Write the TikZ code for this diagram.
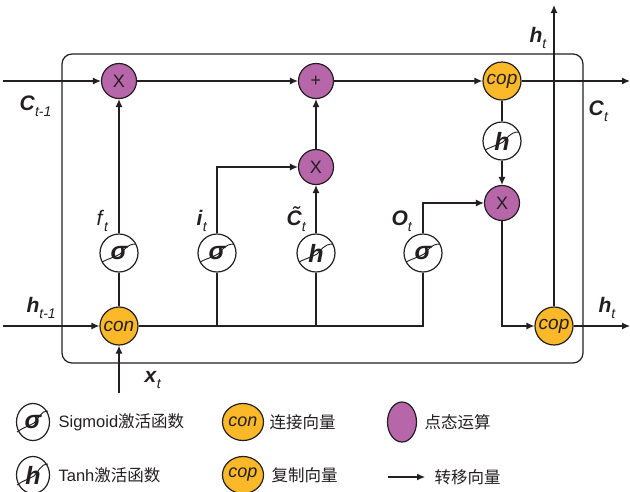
\documentclass[tikz,border=0pt]{standalone}
\usepackage{fontspec}
\setmainfont{Liberation Sans}
\newfontfamily\cjk{Noto Sans CJK SC}
\usetikzlibrary{arrows.meta,shapes.geometric}
\definecolor{pu}{RGB}{184,102,170}
\definecolor{og}{RGB}{251,184,40}
\definecolor{ln}{RGB}{35,31,32}
\newcommand\scurve[2][1]{\draw[ln, line width=0.9pt, shift={(#2.center)}, xscale=#1] (-17,9) .. controls (-9,5) and (-4,4) .. (1,1) .. controls (5,-2) and (7,-9) .. (17,-9);}
\newcommand\lbl[2]{\textbf{\textit{#1}}\raisebox{-6pt}{\fontsize{14}{14}\selectfont\textit{#2}}}
\begin{document}
\begin{tikzpicture}[x=1pt,y=-1pt,line width=1.2pt,draw=ln,text=ln,
  op/.style={circle,draw=ln,fill=pu,minimum size=35pt,inner sep=0pt,font=\fontsize{18}{18}\selectfont},
  vec/.style={circle,draw=ln,fill=og,minimum size=38pt,inner sep=0pt,font=\fontsize{19}{19}\selectfont\itshape},
  act/.style={circle,draw=ln,fill=white,minimum size=38pt,inner sep=0pt,font=\fontsize{25}{25}\selectfont\bfseries\itshape},
  lgact/.style={ellipse,draw=ln,fill=white,minimum width=33pt,minimum height=37pt,inner sep=0pt,font=\fontsize{25}{25}\selectfont\bfseries\itshape},
  lgvec/.style={ellipse,draw=ln,fill=og,minimum width=30pt,minimum height=37pt,inner sep=0pt,font=\fontsize{18}{18}\selectfont\itshape},
  lgop/.style={ellipse,draw=ln,fill=pu,minimum width=29pt,minimum height=40pt,inner sep=0pt},
  arr/.style={-{Latex[length=8pt,width=7pt]}},
  lab/.style={anchor=base west,inner sep=0pt,font=\fontsize{21}{21}\selectfont},
  lgtxt/.style={anchor=west,inner sep=0pt,font=\fontsize{16.5}{16.5}\selectfont}]
\useasboundingbox (0,0) rectangle (630,491);
% box
\node[draw=ln,rounded corners=10pt,minimum width=521pt,minimum height=309pt,inner sep=0pt] (box) at (322.5,208.5) {};
% nodes
\node[op] (m1) at (119,81) {X};
\node[op] (add) at (316,81) {+};
\node[vec] (cp1) at (502,81) {cop};
\node[op] (m2) at (316,167) {X};
\node[act] (th2) at (502,141) {h};
\node[op] (m3) at (502,203) {X};
\node[act] (fg) at (119,253) {σ};
\node[act] (ig) at (217,253) {σ};
\node[act] (cg) at (316,253) {h};
\node[act] (og) at (423,253) {σ};
\node[vec] (con) at (119,326) {con};
\node[vec] (cp2) at (554,326) {cop};
\scurve{th2}\scurve{fg}\scurve{ig}\scurve{cg}\scurve{og}
% free ends
\coordinate (cin) at (3,81);
\coordinate (cout) at (630,81);
\coordinate (hin) at (3,326);
\coordinate (hout) at (630,326);
\coordinate (htop) at (554,5);
\coordinate (xin) at (119,393);
\coordinate (j1) at (217,326);
\coordinate (j2) at (316,326);
\coordinate (j3) at (423,326);
% connectors
\draw[arr] (cin) -- (m1);
\draw[arr] (m1) -- (add);
\draw[arr] (add) -- (cp1);
\draw[arr] (cp1) -- (cout);
\draw[arr] (fg) -- (m1);
\draw (con) -- (fg);
\draw[arr] (hin) -- (con);
\draw[arr] (xin) -- (con);
\draw (con.east) -- (j3) -- (og.south);
\draw (j1) -- (ig.south);
\draw (j2) -- (cg.south);
\draw[arr] (ig.north) |- (m2);
\draw[arr] (cg) -- (m2);
\draw[arr] (m2) -- (add);
\draw[arr] (og.north) |- (m3);
\draw (cp1) -- (th2);
\draw[arr] (th2) -- (m3);
\draw[arr] (m3) |- (cp2);
\draw[arr] (cp2) -- (hout);
\draw[arr] (cp2.north) -- (htop);
% labels
\node[lab] (lc0) at (19,110) {\lbl{C}{t-1}};
\node[lab] (lc1) at (588,115) {\lbl{C}{t}};
\node[lab] (lh1) at (529,42) {\lbl{h}{t}};
\node[lab] (lh0) at (26,312) {\lbl{h}{t-1}};
\node[lab] (lf) at (96,225) {\textit{f}\raisebox{-6pt}{\fontsize{14}{14}\selectfont\textit{t}}};
\node[lab] (li) at (196,225) {\lbl{i}{t}};
\node[lab] (lct) at (286,225) {\lbl{\~{C}}{t}};
\node[lab] (lo) at (391,225) {\lbl{O}{t}};
\node[lab] (lx) at (144,382) {\lbl{x}{t}};
\node[lab] (lh2) at (598,312) {\lbl{h}{t}};
% legend
\node[lgact] (lg1) at (33,422) {σ};
\draw[ln, line width=0.9pt, shift={(lg1.center)}] (-16,10) .. controls (-9,5) and (-4,4) .. (1,1) .. controls (5,-2) and (7,-11) .. (15,-11);
\node[lgact] (lg2) at (33,475) {h};
\draw[ln, line width=0.9pt, shift={(lg2.center)}] (-16,10) .. controls (-9,5) and (-4,4) .. (1,1) .. controls (5,-2) and (7,-11) .. (15,-11);
\node[lgvec] (lg3) at (243,422) {con};
\node[lgvec] (lg4) at (243,475) {cop};
\node[lgop] (lg5) at (402,422) {};
\coordinate (la) at (388,477);
\coordinate (lb) at (425,477);
\draw[arr] (la) -- (lb);
\node[lgtxt] (t1) at (58,422) {Sigmoid{\cjk 激活函数}};
\node[lgtxt] (t2) at (58,475) {Tanh{\cjk 激活函数}};
\node[lgtxt] (t3) at (269,422) {\cjk 连接向量};
\node[lgtxt] (t4) at (271,475) {\cjk 复制向量};
\node[lgtxt] (t5) at (424,422) {\cjk 点态运算};
\node[lgtxt] (t6) at (434,477) {\cjk 转移向量};
\end{tikzpicture}
\end{document}
